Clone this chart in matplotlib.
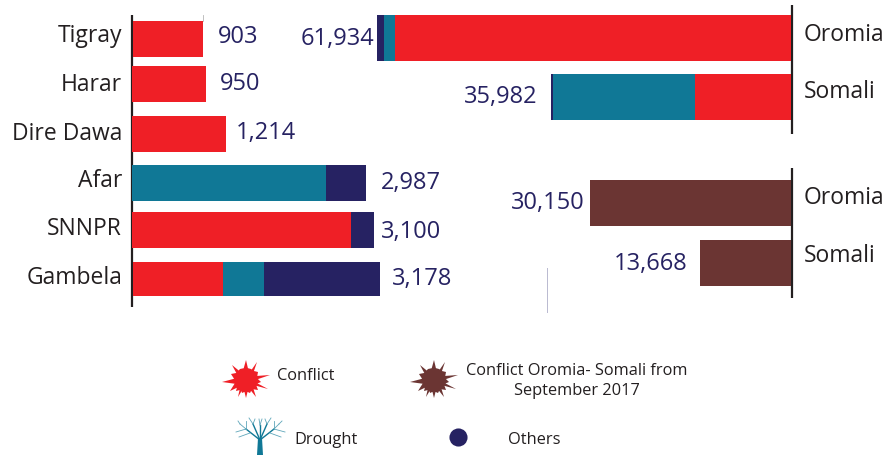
import numpy as np
import matplotlib
matplotlib.use("Agg")
import matplotlib.pyplot as plt

RED = '#ef1f26'
TEAL = '#107896'
NAVY = '#262262'
BROWN = '#6b3533'
DARK = '#231f20'

plt.rcParams['font.family'] = ['Open Sans', 'Noto Sans', 'DejaVu Sans']

# left panel
left_regions = ['Tigray', 'Harar', 'Dire Dawa', 'Afar', 'SNNPR', 'Gambela']
left_conflict = [903, 950, 1214, 0, 2810, 1160]
left_drought = [0, 0, 0, 2495, 0, 520]
left_others = [0, 0, 0, 505, 300, 1498]
left_totals = ['903', '950', '1,214', '2,987', '3,100', '3,178']

# right panel, top: all displacement
right_regions = ['Oromia', 'Somali']
right_conflict = [59240, 14390]
right_drought = [1650, 21290]
right_others = [1044, 302]
right_totals = ['61,934', '35,982']

# right panel, bottom: Oromia-Somali conflict
border_regions = ['Oromia', 'Somali']
border_values = [30150, 13668]
border_totals = ['30,150', '13,668']

W, H = 884, 455
BIG = 17
SMALL = 11.8
fig = plt.figure(figsize=(W / 100, H / 100), dpi=100)

# pixel overlay for rules and legend
bg = fig.add_axes([0, 0, 1, 1])
bg.set_xlim(0, W)
bg.set_ylim(H, 0)
bg.axis('off')
bg.plot([132, 132], [15, 307], color=DARK, lw=1.6, solid_capstyle='butt')
bg.plot([791.5, 791.5], [5, 134], color=DARK, lw=1.6, solid_capstyle='butt')
bg.plot([791.5, 791.5], [168, 298], color=DARK, lw=1.6, solid_capstyle='butt')
bg.plot([547, 547], [268, 312], color='#b9b9d0', lw=0.7)
bg.plot([203, 203], [15, 21], color='#b5b5b5', lw=0.6)

# left scale: 0.078 px per person
ax_l = fig.add_axes([131.5 / W, 0, 400 / W, 1])
ax_l.set_xlim(0, 400 / 0.078)
ax_l.set_ylim(H, 0)
ax_l.axis('off')
ax_l.patch.set_alpha(0)

y_left = [39, 84, 134, 183, 230, 279]
h_left = [36, 36, 36, 36, 36, 34]
shift = np.array([1.5, 0, 0, 0, 0, 1]) / 0.078  # some bars start a bit off the rule
c = np.array(left_conflict)
d = np.array(left_drought)
o = np.array(left_others)
ax_l.barh(y_left, c, left=shift, height=h_left, color=RED)
ax_l.barh(y_left, d, left=shift + c, height=h_left, color=TEAL)
ax_l.barh(y_left, o, left=shift + c + d, height=h_left, color=NAVY)

name_y = [36, 85, 134, 181, 229, 278]
label_x = [218, 220, 236, 381, 381, 392]
label_y = [37, 84, 133, 183, 232, 279]
for name, txt, lx, ly, ny in zip(left_regions, left_totals, label_x, label_y, name_y):
    bg.text(122, ny, name, ha='right', va='center', fontsize=BIG - 0.5, color=DARK)
    bg.text(lx, ly, txt, ha='left', va='center', fontsize=BIG, color=NAVY)

# right scale: 0.00668 px per person, grows to the left
ax_r = fig.add_axes([291 / W, 0, 500 / W, 1])
ax_r.set_xlim(500 / 0.00668, 0)
ax_r.set_ylim(H, 0)
ax_r.axis('off')
ax_r.patch.set_alpha(0)

y_right = [37.5, 97]
cr = np.array(right_conflict)
dr = np.array(right_drought)
orr = np.array(right_others)
ax_r.barh(y_right, cr, height=46, color=RED)
ax_r.barh(y_right, dr, left=cr, height=46, color=TEAL)
ax_r.barh(y_right, orr, left=cr + dr, height=46, color=NAVY)

y_border = [202.5, 263]
ax_r.barh(y_border, border_values, height=46, color=BROWN)

for name, yy in zip(right_regions, [35, 92]):
    bg.text(804, yy, name, ha='left', va='center', fontsize=BIG - 0.5, color=DARK)
for name, yy in zip(border_regions, [198, 256]):
    bg.text(804, yy, name, ha='left', va='center', fontsize=BIG - 0.5, color=DARK)
for txt, xx, yy in zip(right_totals, [374, 537], [39, 97]):
    bg.text(xx, yy, txt, ha='right', va='center', fontsize=BIG, color=NAVY)
for txt, xx, yy in zip(border_totals, [585, 688], [203, 264]):
    bg.text(xx, yy, txt, ha='right', va='center', fontsize=BIG, color=NAVY)


def burst(cx, cy, color):
    # tips of the star as pixel offsets around the centre
    tips = [(-24, 2), (-15, -6), (-14, -15), (-6, -11), (0, -20), (5, -11), (11, -18), (12, -8),
            (24, -5), (15, 2), (22, 9), (12, 10), (10, 17), (4, 13), (0, 18), (-4, 13), (-8, 17),
            (-10, 11), (-16, 11)]
    xs, ys = [], []
    for i, (tx, ty) in enumerate(tips):
        xs.append(cx + tx)
        ys.append(cy + ty)
        nx, ny = tips[(i + 1) % len(tips)]
        mid = np.array([tx + nx, ty + ny]) / 2
        mid = mid / np.hypot(*mid) * 12
        xs.append(cx + mid[0])
        ys.append(cy + mid[1])
    bg.fill(xs, ys, color=color, lw=0)


burst(246, 380, RED)
burst(434, 380, BROWN)
bg.text(277, 376, 'Conflict', ha='left', va='center', fontsize=SMALL, color=DARK)
bg.text(577, 381, 'Conflict Oromia- Somali from\nSeptember 2017', ha='center', va='center',
        fontsize=SMALL, color=DARK, linespacing=1.3)

# small tree for drought
bg.fill([257, 263, 262, 258], [455, 455, 438, 438], color=TEAL, lw=0)
trunk = [(260, 440, 246, 429), (260, 440, 274, 429), (260, 440, 253, 424), (260, 440, 267, 424),
         (260, 440, 260, 425)]
twigs = [(246, 429, 236, 432), (246, 429, 240, 424), (246, 429, 246, 421), (274, 429, 285, 432),
         (274, 429, 279, 424), (274, 429, 274, 421), (253, 424, 249, 418), (253, 424, 255, 419),
         (267, 424, 271, 418), (267, 424, 265, 419), (260, 425, 259, 419), (260, 425, 262, 419),
         (240, 424, 238, 421), (279, 424, 282, 421), (250, 433, 239, 437), (270, 433, 281, 437)]
for x0, y0, x1, y1 in trunk:
    bg.plot([x0, x1], [y0, y1], color=TEAL, lw=1.0)
for x0, y0, x1, y1 in twigs:
    bg.plot([x0, x1], [y0, y1], color='#5fa6ba', lw=0.6)
bg.text(294, 440, 'Drought', ha='left', va='center', fontsize=SMALL, color=DARK)

bg.scatter([458], [437], s=170, color=NAVY, lw=0)
bg.text(508, 440, 'Others', ha='left', va='center', fontsize=SMALL, color=DARK)

fig.savefig('out.png', dpi=100)
